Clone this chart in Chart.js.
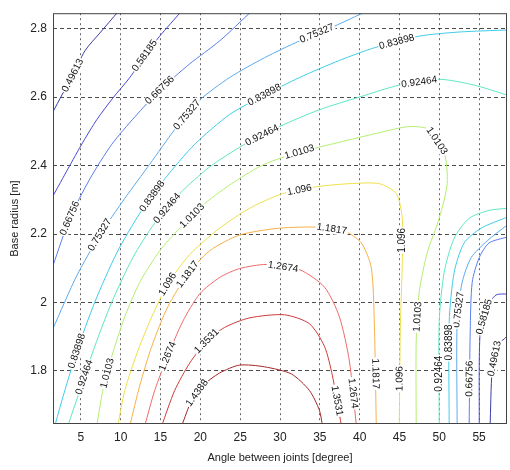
<!DOCTYPE html>
<html>
<head>
<meta charset="utf-8">
<script src="https://cdn.jsdelivr.net/npm/chart.js@4.4.1/dist/chart.umd.min.js"></script>
<style>
  html, body { margin: 0; padding: 0; background: #fff; }
  #wrap { width: 510px; height: 470px; }
</style>
</head>
<body>
<div id="wrap"><canvas id="contour"></canvas></div>
<script>
const xTicks = [5, 10, 15, 20, 25, 30, 35, 40, 45, 50, 55];
const yTicks = [1.8, 2, 2.2, 2.4, 2.6, 2.8];

const levels = [0.49613, 0.58185, 0.66756, 0.75327, 0.83898, 0.92464, 1.0103, 1.096, 1.1817, 1.2674, 1.3531, 1.4388];
const levelColors = ["#3c3ca6", "#4848d8", "#5a7ef0", "#5aaaf0", "#40cce8", "#5ee6c4",
                     "#b4ee70", "#eee048", "#f6b048", "#ee6a6a", "#d03a3a", "#a02828"];

// contour lines, [angle, radius] pairs
const c0496a = [[1.5,2.557],[2.62,2.606],[4.0,2.663],[5.5,2.735],[7.38,2.787],[9.7,2.85]];
const c0496b = [[56.38,1.64],[56.63,1.80],[57.26,1.872],[58.5,1.901]];
const c0582a = [[1.5,2.311],[3.37,2.39],[5.25,2.468],[7.0,2.534],[9.01,2.597],[11.14,2.657],[13.02,2.721],[14.9,2.778],[17.6,2.85]];
const c0582b = [[55.01,1.64],[55.13,1.915],[56.01,1.987],[57.13,2.022],[58.5,2.025]];
const c0668a = [[1.5,2.108],[3.62,2.246],[6.13,2.361],[8.88,2.462],[11.77,2.542],[14.9,2.62],[18.66,2.697],[22.42,2.764],[26.4,2.85]];
const c0668b = [[53.75,1.64],[53.88,1.915],[54.13,2.059],[55.01,2.131],[56.25,2.174],[58.5,2.191]];
const c0753a = [[1.5,1.924],[4.5,2.079],[7.38,2.197],[10.51,2.304],[13.65,2.404],[16.78,2.505],[19.91,2.591],[23.67,2.657],[28.06,2.715],[32.44,2.764],[36.83,2.807],[40.8,2.85]];
const c0753b = [[52.24,1.64],[52.24,1.944],[52.87,2.059],[54.0,2.131],[56.01,2.18],[58.5,2.226]];
const c0839a = [[1.74,1.64],[2.62,1.714],[4.5,1.858],[6.75,2.001],[9.51,2.145],[12.39,2.26],[15.53,2.361],[19.29,2.462],[23.67,2.549],[28.06,2.606],[32.44,2.657],[37.46,2.707],[41.84,2.744],[47.48,2.778],[52.49,2.79],[58.5,2.796]];
const c0839b = [[51.24,1.64],[51.24,1.944],[51.87,2.088],[53.12,2.174],[55.25,2.217],[58.5,2.249]];
const c0925a = [[3.37,1.64],[4.87,1.743],[6.75,1.872],[8.88,2.001],[11.52,2.131],[14.27,2.232],[17.41,2.318],[21.17,2.396],[25.55,2.462],[29.94,2.514],[34.95,2.563],[39.96,2.6],[44.98,2.635],[49.99,2.652],[54.38,2.635],[58.5,2.606]];
const c0925b = [[49.99,1.64],[49.99,1.944],[50.61,2.088],[51.87,2.188],[53.75,2.246],[56.25,2.269],[58.5,2.275]];
const c1010 = [[7.0,1.64],[7.76,1.743],[8.88,1.843],[10.51,1.958],[12.39,2.059],[14.9,2.151],[17.41,2.217],[20.54,2.289],[24.3,2.353],[28.06,2.404],[32.44,2.439],[37.46,2.468],[42.47,2.496],[46.23,2.514],[48.73,2.505],[50.61,2.439],[50.99,2.347],[49.99,2.246],[48.48,2.145],[47.48,2.03],[47.1,1.887],[47.1,1.64]];
const c1096 = [[9.64,1.64],[10.51,1.743],[12.14,1.858],[13.9,1.958],[15.9,2.053],[18.66,2.14],[22.42,2.217],[26.18,2.275],[30.31,2.318],[34.57,2.338],[38.71,2.347],[42.47,2.347],[44.6,2.318],[45.35,2.246],[45.35,2.117],[45.1,1.915],[44.98,1.64]];
const c1182 = [[11.14,1.64],[12.39,1.757],[13.9,1.872],[15.9,1.987],[18.41,2.082],[21.17,2.151],[24.92,2.197],[29.94,2.217],[34.95,2.22],[38.08,2.209],[40.21,2.174],[41.46,2.102],[41.84,1.944],[42.09,1.64]];
const c1267 = [[13.02,1.64],[14.27,1.743],[15.9,1.843],[17.78,1.944],[19.91,2.025],[22.42,2.073],[24.92,2.099],[28.31,2.111],[32.44,2.096],[35.58,2.045],[37.46,1.958],[38.71,1.829],[39.59,1.64]];
const c1353 = [[15.15,1.64],[16.78,1.743],[18.66,1.823],[20.79,1.887],[23.04,1.927],[26.18,1.955],[30.56,1.964],[33.69,1.938],[35.58,1.872],[36.58,1.786],[37.71,1.64]];
const c1439 = [[17.66,1.64],[18.91,1.714],[20.29,1.757],[22.42,1.794],[24.92,1.817],[28.06,1.812],[31.44,1.791],[33.69,1.743],[34.95,1.685],[35.33,1.64]];

// level index, points, where the inline labels go (index along the line)
const contours = [
  { lv: 0, pts: c0496a, labelAt: [2] },
  { lv: 0, pts: c0496b, labelAt: [1.5] },
  { lv: 1, pts: c0582a, labelAt: [6] },
  { lv: 1, pts: c0582b, labelAt: [1.6] },
  { lv: 2, pts: c0668a, labelAt: [1, 5] },
  { lv: 2, pts: c0668b, labelAt: [0.5] },
  { lv: 3, pts: c0753a, labelAt: [2, 5.5, 9.5] },
  { lv: 3, pts: c0753b, labelAt: [1.3] },
  { lv: 4, pts: c0839a, labelAt: [2, 5.5, 9, 12.5] },
  { lv: 4, pts: c0839b, labelAt: [0.8] },
  { lv: 5, pts: c0925a, labelAt: [1.3, 5.5, 8.5, 12.5] },
  { lv: 5, pts: c0925b, labelAt: [0.5] },
  { lv: 6, pts: c1010, labelAt: [1.5, 6.5, 10, 14.5, 19.5] },
  { lv: 7, pts: c1096, labelAt: [4, 8.5, 13.5, 15.5] },
  { lv: 8, pts: c1182, labelAt: [4, 8.5, 12.5] },
  { lv: 9, pts: c1267, labelAt: [2, 7.5, 11.5] },
  { lv: 10, pts: c1353, labelAt: [3, 9.5] },
  { lv: 11, pts: c1439, labelAt: [1.5] },
];

const fontFam = "'Liberation Sans', Arial, Helvetica, sans-serif";

const contourLabels = {
  id: "contourLabels",
  afterDatasetsDraw(chart) {
    const ctx = chart.ctx;
    const xs = chart.scales.x, ys = chart.scales.y;
    const area = chart.chartArea;
    ctx.save();
    ctx.beginPath();
    ctx.rect(area.left, area.top, area.right - area.left, area.bottom - area.top);
    ctx.clip();
    ctx.font = "10px " + fontFam;
    ctx.textAlign = "center";
    ctx.textBaseline = "middle";
    contours.forEach((c) => {
      const px = c.pts.map((p) => [xs.getPixelForValue(p[0]), ys.getPixelForValue(p[1])]);
      c.labelAt.forEach((t) => {
        let i = Math.min(Math.floor(t), px.length - 2);
        const f = t - i;
        const x = px[i][0] + (px[i + 1][0] - px[i][0]) * f;
        const y = px[i][1] + (px[i + 1][1] - px[i][1]) * f;
        let a, b;
        if (f === 0 && i > 0) { a = px[i - 1]; b = px[i + 1]; } else { a = px[i]; b = px[i + 1]; }
        let ang = Math.atan2(b[1] - a[1], b[0] - a[0]);
        if (ang > Math.PI / 2 - 0.01) ang -= Math.PI;
        if (ang < -Math.PI / 2 - 0.01) ang += Math.PI;
        const txt = String(levels[c.lv]);
        const w = ctx.measureText(txt).width;
        ctx.save();
        ctx.translate(x, y);
        ctx.rotate(ang);
        ctx.fillStyle = "#fff";
        ctx.fillRect(-w / 2 - 1, -5, w + 2, 10);
        ctx.fillStyle = "#111";
        ctx.fillText(txt, 0, 0);
        ctx.restore();
      });
    });
    ctx.restore();
  },
  afterDraw(chart) {
    const ctx = chart.ctx;
    const a = chart.chartArea;
    ctx.save();
    ctx.strokeStyle = "#444";
    ctx.lineWidth = 1;
    ctx.strokeRect(a.left + 0.5, a.top + 0.5, a.right - a.left - 1, a.bottom - a.top - 1);
    ctx.restore();
  },
};

new Chart(document.getElementById("contour"), {
  type: "scatter",
  data: {
    datasets: contours.map((c) => ({
      label: String(levels[c.lv]),
      data: c.pts.map((p) => ({ x: p[0], y: p[1] })),
      showLine: true,
      borderColor: levelColors[c.lv],
      borderWidth: 1,
      pointRadius: 0,
      tension: 0.25,
      clip: 0,
    })),
  },
  options: {
    responsive: true,
    maintainAspectRatio: false,
    animation: false,
    layout: { padding: { top: 8, right: 3, left: 0, bottom: 0 } },
    plugins: {
      legend: { display: false },
      tooltip: { enabled: false },
    },
    scales: {
      x: {
        type: "linear",
        min: 1.5,
        max: 58.5,
        afterBuildTicks: (axis) => { axis.ticks = xTicks.map((v) => ({ value: v })); },
        afterFit: (axis) => { axis.height = 46; },
        ticks: { color: "#222", padding: 6, maxRotation: 0, font: { size: 12, family: fontFam } },
        grid: { color: "rgba(0,0,0,0.6)", drawTicks: false },
        border: { display: false, dash: [2, 3] },
        title: { display: true, text: "Angle between joints [degree]", color: "#222",
                 padding: { top: 0, bottom: 5 }, font: { size: 11, family: fontFam } },
      },
      y: {
        type: "linear",
        min: 1.645,
        max: 2.845,
        afterBuildTicks: (axis) => { axis.ticks = yTicks.map((v) => ({ value: v })); },
        afterFit: (axis) => { axis.width = 53; },
        ticks: { color: "#222", padding: 6, font: { size: 12, family: fontFam },
                 callback: (v) => String(v) },
        grid: { color: "rgba(0,0,0,0.7)", drawTicks: false },
        border: { display: false, dash: [4, 3] },
        title: { display: true, text: "Base radius [m]", color: "#222",
                 padding: { top: 8, bottom: 0 }, font: { size: 11, family: fontFam } },
      },
    },
  },
  plugins: [contourLabels],
});
</script>
</body>
</html>
